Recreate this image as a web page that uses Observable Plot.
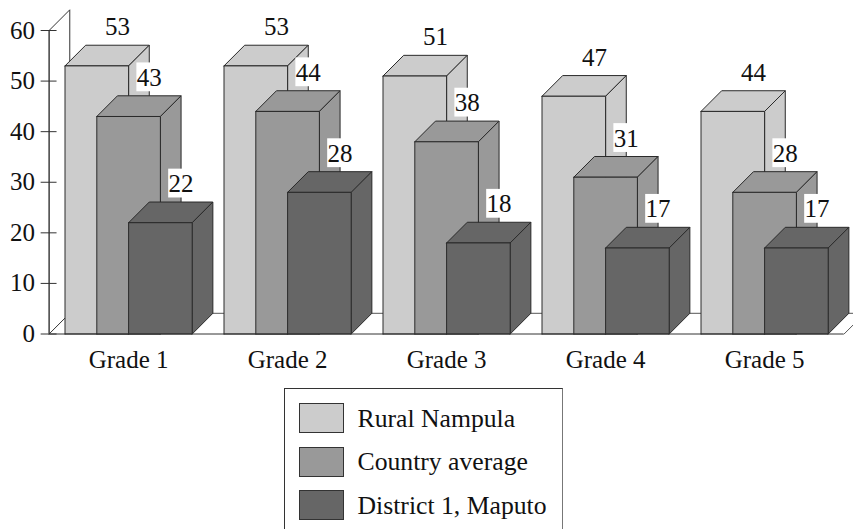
<!DOCTYPE html>
<html>
<head>
<meta charset="utf-8">
<script src="https://cdn.jsdelivr.net/npm/d3@7"></script>
<script src="https://cdn.jsdelivr.net/npm/@observablehq/plot@0.6"></script>
<style>
html,body{margin:0;padding:0;background:#fff;overflow:hidden;width:853px;height:529px}
#chart svg{display:block}
#legend{position:absolute;left:283.5px;top:387.5px;width:279px;height:160px;border:1px solid #333;border-right-color:#777;box-sizing:border-box;font-family:"Liberation Serif",serif;font-size:25.7px;color:#111}
.row{position:absolute;left:14px;display:flex;align-items:center;height:30px}
.sw{width:43px;height:28px;border:1px solid #333;margin-right:14px;box-sizing:content-box;position:relative;top:-0.5px}
</style>
</head>
<body>
<div id="chart"></div>
<div id="legend"></div>
<script>
const grades = ["Grade 1", "Grade 2", "Grade 3", "Grade 4", "Grade 5"];
const seriesNames = ["Rural Nampula", "Country average", "District 1, Maputo"];
const rural = [53, 53, 51, 47, 44];
const country = [43, 44, 38, 31, 28];
const district = [22, 28, 18, 17, 17];
const seriesColors = ["#cccccc", "#999999", "#666666"];
const yTicks = [0, 10, 20, 30, 40, 50, 60];

const seriesValues = [rural, country, district];
const depthX = 0.13, depthY = 4.09, halfBar = 0.2, barShift = 0.2;

// Faces of each box, in drawing order, built from the values
const faces = [];
let faceId = 0;
function addFace(pts, fill) {
  const id = faceId++;
  [...pts, pts[0]].forEach(([x, y]) => faces.push({id, x, y, fill}));
}
grades.forEach((g, i) => {
  seriesValues.forEach((vals, s) => {
    const v = vals[i], c = i + (s - 1) * barShift;
    const l = c - halfBar, r = c + halfBar, f = seriesColors[s];
    addFace([[l, v], [r, v], [r + depthX, v + depthY], [l + depthX, v + depthY]], f);
    addFace([[r, 0], [r + depthX, depthY], [r + depthX, v + depthY], [r, v]], f);
    addFace([[l, 0], [r, 0], [r, v], [l, v]], f);
  });
});

const labels = grades.flatMap((g, i) => seriesValues.map((vals, s) => ({
  x: i + (s - 1) * barShift + depthX,
  y: vals[i] + depthY,
  value: vals[i]
})));

const axisLeft = -0.5;
const plot = Plot.plot({
  width: 853, height: 375,
  marginLeft: 48.6, marginRight: 9.4, marginTop: 30, marginBottom: 41.5,
  x: {domain: [-0.5, 4.5], axis: null},
  y: {domain: [0, 60], axis: null},
  style: {fontFamily: "'Liberation Serif', serif", background: "#fff", color: "#111"},
  marks: [
    // back wall and floor
    Plot.line([[axisLeft, 60], [axisLeft + depthX, 60 + depthY], [axisLeft + depthX, depthY], [axisLeft, 0]],
      {x: d => d[0], y: d => d[1], stroke: "#333", strokeWidth: 1}),
    Plot.line([[axisLeft + depthX, depthY], [4.5 + depthX, depthY], [4.5, 0]],
      {x: d => d[0], y: d => d[1], stroke: "#555", strokeWidth: 1}),
    // boxes
    Plot.line(faces, {x: "x", y: "y", z: "id", fill: "fill", stroke: "#2a2a2a", strokeWidth: 1, strokeLinejoin: "miter"}),
    // front floor edge
    Plot.ruleY([0], {x1: axisLeft, x2: 4.5, stroke: "#333", strokeWidth: 1}),
    // value labels
    Plot.rect(labels, {
      x1: d => d.x - 0.078, x2: d => d.x + 0.078,
      y1: d => d.y + 0.8, y2: d => d.y + 6.5,
      fill: "#fff", inset: 0
    }),
    Plot.text(labels, {
      x: "x", y: "y", text: "value", dy: -18,
      fontSize: 25, fill: "#111", lineAnchor: "middle", textAnchor: "middle"
    }),
    // y axis
    Plot.ruleX([axisLeft], {y1: 0, y2: 60, stroke: "#111", strokeWidth: 1.2}),
    Plot.ruleY(yTicks, {x1: axisLeft - 0.05, x2: axisLeft + 0.05, stroke: "#333", strokeWidth: 1}),
    Plot.axisY({ticks: yTicks, anchor: "left", tickSize: 8, tickPadding: 6, label: null, fontSize: 25, tickFormat: d => d, stroke: "none"}),
    Plot.axisX({ticks: [0, 1, 2, 3, 4], anchor: "bottom", tickSize: 0, tickPadding: 26, label: null, fontSize: 25, tickFormat: i => grades[i], lineAnchor: "middle"})
  ]
});
document.getElementById("chart").append(plot);

const legend = document.getElementById("legend");
seriesNames.forEach((name, s) => {
  const row = document.createElement("div");
  row.className = "row";
  row.style.top = (15 + s * 43.5) + "px";
  const sw = document.createElement("span");
  sw.className = "sw";
  sw.style.background = seriesColors[s];
  const t = document.createElement("span");
  t.textContent = name;
  row.append(sw, t);
  legend.append(row);
});
</script>
</body>
</html>
